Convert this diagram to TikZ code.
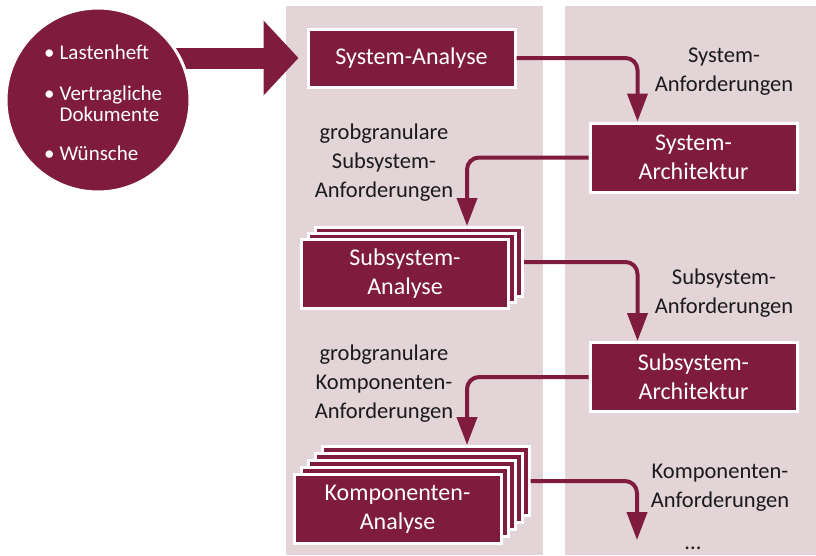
\documentclass[tikz,border=0pt]{standalone}
\usepackage{fontspec}
\setmainfont{Carlito}
\usetikzlibrary{arrows.meta,backgrounds,calc}
\definecolor{wine}{HTML}{7F1C3D}
\definecolor{panel}{HTML}{E3D4D7}
\definecolor{ink}{HTML}{1A1A1A}
\begin{document}
\begin{tikzpicture}[x=1pt,y=-1pt,
  box/.style={draw=white, line width=3pt, fill=wine, text=white,
    minimum width=207pt, minimum height=69pt, align=center, inner sep=0pt,
    font=\fontsize{24}{29}\selectfont},
  flow/.style={draw=wine, line width=4pt, rounded corners=12pt,
    -{Triangle[width=20pt,length=28pt]}},
  lbl/.style={align=center, text=ink, inner sep=0pt,
    font=\fontsize{22.5}{29}\selectfont}]
\useasboundingbox (0,0) rectangle (816,555);

% source of the requirements
\node[circle, fill=wine, draw=white, line width=3pt, minimum size=184pt,
  inner sep=0pt] (src) at (98,100) {};
\node[anchor=west, text=white, inner sep=0pt,
  font=\fontsize{21}{20.5}\selectfont] (srctext) at (44,106)
  {\begin{tabular}{@{}l@{\hspace{5pt}}l@{}}
   \textbullet & Lastenheft\\[20pt]
   \textbullet & Vertragliche\\
               & Dokumente\\[19pt]
   \textbullet & Wünsche
   \end{tabular}};

% analysis / architecture steps
\node[box, minimum height=58pt] (sa) at (411.5,58) {System-Analyse};
\node[box] (sarch) at (693.5,157.5) {System-\\Architektur};

\node[box] (ssa3) at (419,262) {};
\node[box] (ssa2) at (412,268) {};
\node[box] (ssa) at (405,274) {Subsystem-\\Analyse};

\node[box] (ssarch) at (693.5,377) {Subsystem-\\Architektur};

\foreach \i in {4,3,2,1}
  \node[box] (ka\i) at ({397.5+7*\i},{509-7*\i}) {};
\node[box] (ka) at (397.5,509) {Komponenten-\\Analyse};

% columns and input arrow
\begin{scope}[on background layer]
  \fill[panel] (286,6) rectangle (543,555);
  \fill[panel] (565,6) rectangle (816,555);
  \draw[wine, line width=21pt, -{Triangle[width=73pt,length=35pt]}]
    (src.center |- sa.west) -- ([xshift=-8pt]sa.west);
\end{scope}

% flows between steps
\coordinate (kend) at (637,540);
\draw[flow] (sa.east) -| ([xshift=-56pt]sarch.north);
\draw[flow] (sarch.west) -| ([xshift=48pt]ssa3.north);
\draw[flow] (ssa3.east) -| ([xshift=-56pt]ssarch.north);
\draw[flow] (ssarch.west) -| ([xshift=41.5pt]ka4.north);
\draw[flow] (ka4.east) -| (kend);

% work products
\node[lbl] (l1) at (724,72) {System-\\Anforderungen};
\node[lbl] (l2) at (384,163) {grobgranulare\\Subsystem-\\Anforderungen};
\node[lbl] (l3) at (724,293) {Subsystem-\\Anforderungen};
\node[lbl] (l4) at (384,384) {grobgranulare\\Komponenten-\\Anforderungen};
\node[lbl] (l5) at (720,488) {Komponenten-\\Anforderungen};
\node[lbl] (dots) at (693,548) {...};
\end{tikzpicture}
\end{document}
